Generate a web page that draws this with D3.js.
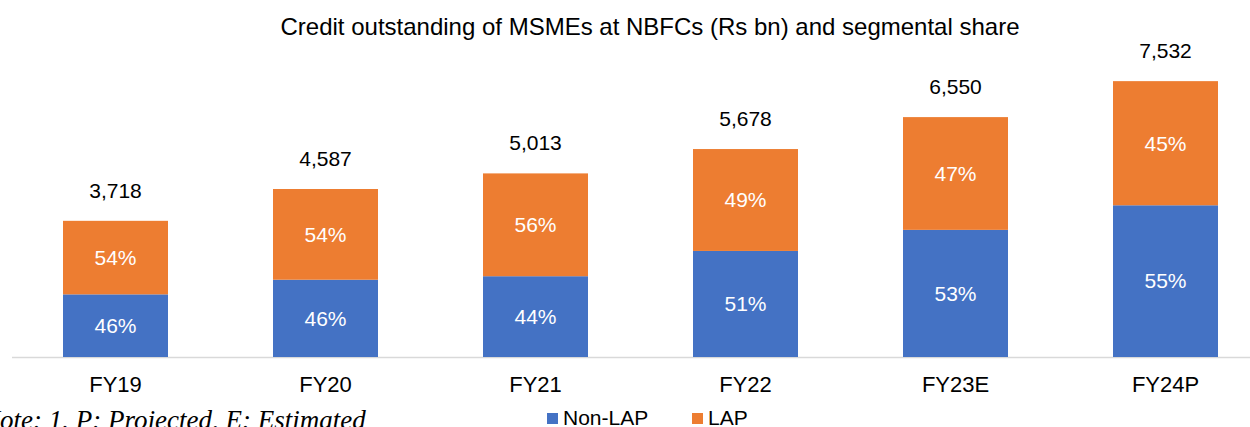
<!DOCTYPE html>
<html>
<head>
<meta charset="utf-8">
<script src="https://cdn.jsdelivr.net/npm/d3@7"></script>
<style>
  body { margin: 0; background: #fff; }
  svg text { font-family: "Liberation Sans", Arial, sans-serif; }
</style>
</head>
<body>
<div id="chart"></div>
<script>
// data
var years = ['FY19', 'FY20', 'FY21', 'FY22', 'FY23E', 'FY24P'];
var totals = [3718, 4587, 5013, 5678, 6550, 7532];
var nonLapShare = [46, 46, 44, 51, 53, 55];
var lapShare = [54, 54, 56, 49, 47, 45];
var seriesNames = ['Non-LAP', 'LAP'];
var colors = ['#4472C4', '#ED7D31'];

var fullWidth = 1250;
var fullHeight = 427;

var svg = d3.select('#chart').append('svg')
  .attr('width', fullWidth)
  .attr('height', fullHeight);

// x: one band per year
var xScale = d3.scaleBand()
  .domain(years)
  .range([10.5, 1270.5])
  .paddingInner(0.5)
  .paddingOuter(0.25);

var yScale = d3.scaleLinear()
  .domain([0, 8000])
  .range([357, 64]);

var rows = years.map(function(y, i) {
  return {year: y, total: totals[i], shares: [nonLapShare[i], lapShare[i]]};
});

// title
svg.append('text')
  .attr('x', 650)
  .attr('y', 35)
  .attr('text-anchor', 'middle')
  .style('font-size', '24px')
  .style('fill', '#000')
  .text('Credit outstanding of MSMEs at NBFCs (Rs bn) and segmental share');

// axis baseline
svg.append('line')
  .attr('x1', 12).attr('x2', 1250)
  .attr('y1', yScale(0) + 0.5).attr('y2', yScale(0) + 0.5)
  .style('stroke', '#d9d9d9')
  .style('stroke-width', 1.5);

var xAxis = d3.axisBottom(xScale).tickSize(0).tickPadding(0);
var xg = svg.append('g')
  .attr('transform', 'translate(0,' + yScale(0) + ')')
  .call(xAxis);
xg.select('.domain').remove();
xg.selectAll('text')
  .attr('dy', null)
  .attr('y', 35)
  .style('font-size', '22px')
  .style('fill', '#000')
  .style('font-family', '"Liberation Sans", Arial, sans-serif');

// stacked bars
var groups = svg.selectAll('g.bar')
  .data(rows)
  .enter().append('g')
  .attr('class', 'bar');

groups.each(function(d) {
  var g = d3.select(this);
  var base = 0;
  d.shares.forEach(function(s, k) {
    var v0 = base;
    var v1 = base + d.total * s / 100;
    base = v1;
    g.append('rect')
      .attr('x', xScale(d.year))
      .attr('width', xScale.bandwidth())
      .attr('y', yScale(v1))
      .attr('height', yScale(v0) - yScale(v1))
      .style('fill', colors[k]);
    g.append('text')
      .attr('x', xScale(d.year) + xScale.bandwidth() / 2)
      .attr('y', (yScale(v0) + yScale(v1)) / 2)
      .attr('dy', '0.35em')
      .attr('text-anchor', 'middle')
      .style('font-size', '21px')
      .style('fill', '#fff')
      .text(s + '%');
  });
  g.append('text')
    .attr('x', xScale(d.year) + xScale.bandwidth() / 2)
    .attr('y', yScale(d.total) - 23)
    .attr('text-anchor', 'middle')
    .style('font-size', '21px')
    .style('fill', '#000')
    .text(d3.format(',')(d.total));
});

// legend
var legendX = [547, 692];
var legend = svg.selectAll('g.legend')
  .data(seriesNames)
  .enter().append('g')
  .attr('class', 'legend')
  .attr('transform', function(d, i) { return 'translate(' + legendX[i] + ',413)'; });
legend.append('rect')
  .attr('width', 11).attr('height', 11)
  .style('fill', function(d, i) { return colors[i]; });
legend.append('text')
  .attr('x', 16)
  .attr('y', 12)
  .style('font-size', '21px')
  .style('fill', '#000')
  .text(function(d) { return d; });

// note (cut off in the original)
svg.append('text')
  .attr('x', -18)
  .attr('y', 429)
  .style('font-family', '"Liberation Serif", "Times New Roman", serif')
  .style('font-style', 'italic')
  .style('font-size', '27px')
  .style('fill', '#000')
  .text('Note: 1. P: Projected, E: Estimated');
</script>
</body>
</html>
